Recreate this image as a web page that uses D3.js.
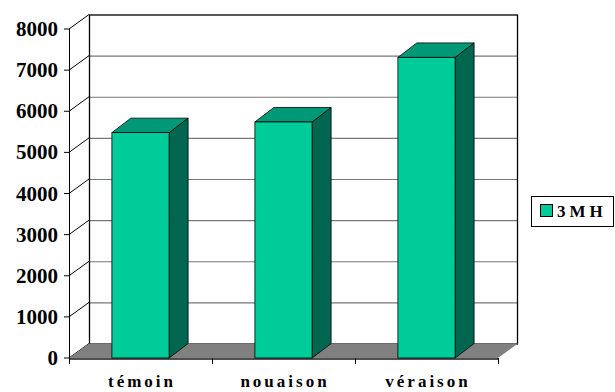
<!DOCTYPE html>
<html><head><meta charset="utf-8">
<script src="https://cdn.jsdelivr.net/npm/d3@7"></script>
<style>body{margin:0;background:#fff}svg{display:block}</style>
</head><body>
<script>
const categories = ["témoin", "nouaison", "véraison"];
const series = "3MH";
const values = [5480, 5740, 7310];
const yTicks = [0, 1000, 2000, 3000, 4000, 5000, 6000, 7000, 8000];
const title = "Excrétion urinaire de 3MH";

const W = 615, H = 392;
const FONT = "Liberation Serif";
const svg = d3.select("body").append("svg").attr("width", W).attr("height", H)
  .style("font-family", FONT + ", serif").style("font-weight", "bold");

const x0 = 69, x1 = 498, dX = 20, dY = -14.5;
const y = d3.scaleLinear().domain([0, 8000]).range([358, 29]);
const x = d3.scaleBand().domain(categories).range([x0, x1]).paddingInner(0).paddingOuter(0);
const barW = x.bandwidth() * 0.4;
const bdX = 19, bdY = -14.5;

// title (clipped at top, as in the reference)
svg.append("text").attr("x", 300).attr("y", 0).attr("text-anchor", "middle")
  .attr("font-family", FONT).attr("font-weight", "bold")
  .attr("font-size", 17).attr("letter-spacing", 3).attr("fill", "#999").text(title);

svg.append("rect").attr("x", x0 + dX).attr("y", y(8000) + dY)
  .attr("width", x1 - x0).attr("height", y(0) - y(8000)).attr("fill", "#fff");
svg.selectAll(".grid").data(yTicks.filter(d => d > 0 && d < 8000)).join("line")
  .attr("x1", x0 + dX).attr("x2", x1 + dX)
  .attr("y1", d => y(d) + dY + 0.5).attr("y2", d => y(d) + dY + 0.5)
  .attr("stroke", "#777").attr("stroke-width", 1.2);
svg.append("rect").attr("x", x0 + dX + 0.5).attr("y", y(8000) + dY + 0.5)
  .attr("width", x1 - x0 - 1).attr("height", y(0) - y(8000))
  .attr("fill", "none").attr("stroke", "#000").attr("stroke-width", 1.3);

svg.selectAll(".diag").data(yTicks).join("line")
  .attr("x1", x0).attr("y1", d => y(d))
  .attr("x2", x0 + dX).attr("y2", d => y(d) + dY)
  .attr("stroke", "#000").attr("stroke-width", 1);

svg.append("polygon")
  .attr("points", [[x0, y(0)], [x1, y(0)], [x1 + dX, y(0) + dY], [x0 + dX, y(0) + dY]].map(p => p.join(",")).join(" "))
  .attr("fill", "#808080");
svg.append("line").attr("x1", x0).attr("x2", x1).attr("y1", y(0) + 1).attr("y2", y(0) + 1)
  .attr("stroke", "#505050").attr("stroke-width", 2);

svg.append("line").attr("x1", x0 + 0.5).attr("x2", x0 + 0.5).attr("y1", y(8000)).attr("y2", y(0) + 1)
  .attr("stroke", "#000");
svg.selectAll(".ytick").data(yTicks).join("line")
  .attr("x1", x0 - 5).attr("x2", x0).attr("y1", d => y(d)).attr("y2", d => y(d))
  .attr("stroke", "#000");
svg.selectAll(".ylab").data(yTicks).join("text")
  .attr("x", 58).attr("y", d => y(d) + 7).attr("text-anchor", "end")
  .attr("font-family", FONT).attr("font-weight", "bold")
  .attr("font-size", 21).text(d => d);

const xt = [x0, ...categories.map(c => x(c) + x.bandwidth())];
svg.selectAll(".xtick").data(xt).join("line")
  .attr("x1", d => d + 0.5).attr("x2", d => d + 0.5).attr("y1", y(0)).attr("y2", y(0) + 6)
  .attr("stroke", "#000");
svg.selectAll(".xlab").data(categories).join("text")
  .attr("x", d => x(d) + x.bandwidth() / 2 + 1.5).attr("y", 387).attr("text-anchor", "middle")
  .attr("font-family", FONT).attr("font-weight", "bold")
  .attr("font-size", 17).attr("letter-spacing", 3).text(d => d);

const bars = svg.selectAll(".bar").data(categories.map((c, i) => ({c, v: values[i]}))).join("g");
bars.each(function(d) {
  const g = d3.select(this);
  const l = x(d.c) + (x.bandwidth() - barW) / 2, r = l + barW;
  const t = y(d.v), b = y(0);
  const pts = a => a.map(p => p.join(",")).join(" ");
  g.append("polygon").attr("points", pts([[r, t], [r + bdX, t + bdY], [r + bdX, b + bdY], [r, b]]))
    .attr("fill", "#006650").attr("stroke", "#000").attr("stroke-width", 0.8);
  g.append("polygon").attr("points", pts([[l, t], [l + bdX, t + bdY], [r + bdX, t + bdY], [r, t]]))
    .attr("fill", "#009977").attr("stroke", "#000").attr("stroke-width", 0.8);
  g.append("rect").attr("x", l).attr("y", t).attr("width", barW).attr("height", b - t)
    .attr("fill", "#00CC99").attr("stroke", "#000").attr("stroke-width", 0.8);
});

const lg = svg.append("g");
lg.append("rect").attr("x", 531.5).attr("y", 196.5).attr("width", 82).attr("height", 30)
  .attr("fill", "#fff").attr("stroke", "#000");
lg.append("rect").attr("x", 540.5).attr("y", 204.5).attr("width", 12).attr("height", 12)
  .attr("fill", "#00CC99").attr("stroke", "#000");
lg.append("text").attr("x", 557).attr("y", 217)
  .attr("font-family", FONT).attr("font-weight", "bold")
  .attr("font-size", 17).attr("letter-spacing", 4).text(series);
</script>
</body></html>
